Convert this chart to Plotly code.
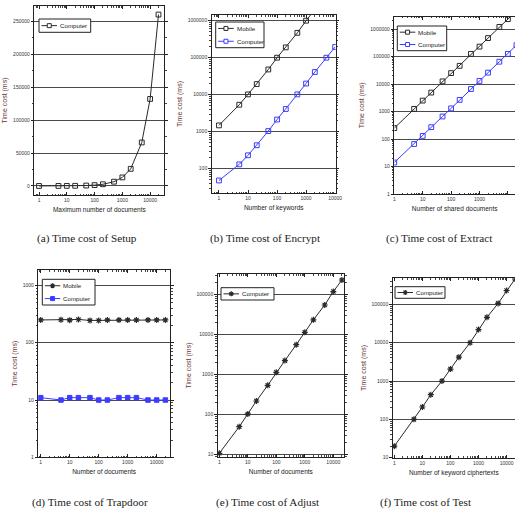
import plotly.graph_objects as go

# ---------------- data ----------------
docs = [1, 5, 10, 20, 50, 100, 200, 500, 1000, 2000, 5000, 10000, 20000]
keywords = [1, 5, 10, 20, 50, 100, 200, 500, 1000, 2000, 5000, 10000]

setup_computer = [13, 65, 130, 260, 650, 1300, 2600, 6500, 13000, 26000, 66000, 132000, 260000]

encrypt_mobile = [1480, 5350, 10200, 19400, 48000, 100000, 190000, 470000, 1000000, 2000000, 5000000, 10000000]
encrypt_computer = [48, 131, 230, 430, 1040, 2130, 4100, 10200, 20000, 41000, 100000, 195000]

extract_mobile = [250, 1250, 2500, 4900, 12500, 25000, 46000, 125000, 230000, 470000, 1200000, 2300000, 4600000]
extract_computer = [14, 66, 130, 270, 660, 1300, 2650, 6600, 13000, 26000, 65000, 125000, 260000]

trapdoor_mobile = [250, 252, 248, 255, 245, 245, 250, 250, 250, 250, 250, 250, 250]
trapdoor_computer = [11, 10, 11, 11, 11, 10, 10, 11, 11, 11, 10, 10, 10]

adjust_computer = [10.6, 49, 102, 215, 530, 1120, 2200, 5500, 11200, 23000, 54000, 117000, 228000]

test_computer = [20, 100, 210, 440, 1000, 2050, 4200, 10000, 22000, 46000, 106000, 230000, 460000]

series_names = ["Mobile", "Computer"]
x_titles = ["Maximum number of documents", "Number of keywords", "Number of shared documents",
            "Number of documents", "Number of documents", "Number of keyword ciphertexts"]
captions = ["(a) Time cost of Setup", "(b) Time cost of Encrypt", "(c) Time cost of Extract",
            "(d) Time cost of Trapdoor", "(e) Time cost of Adjust", "(f) Time cost of Test"]
x_tick_vals = [1, 10, 100, 1000, 10000]
x_tick_text = ["1", "10", "100", "1000", "10000"]
setup_y_ticks = [0, 50000, 100000, 150000, 200000, 250000]

# ---------------- layout helpers ----------------
W, H = 515, 516


def px_x(v):
    return v / W


def px_y(v):
    return 1 - v / H


BLACK = "#2a2a2a"
BLUE = "#3c3cff"
GRID = "#4a4a4a"
YTITLE = "#6a3434"
TICKFONT = dict(family="Liberation Sans, Arial", size=5, color="#333")

# panel boxes in pixels: left, right, top, bottom ; x range (log10) ; y range ; y type
panels = [
    dict(box=(34.3, 164.3, 6, 195), xr=[-0.17, 4.51], yr=[-13700, 273000], ytype="linear", cap=(87, 239)),
    dict(box=(211.7, 335.7, 15, 193), xr=[-0.25, 4.02], yr=[1.343, 6.154], ytype="log", cap=(265, 239)),
    dict(box=(394.3, 515, 16.7, 194), xr=[0, 4.25], yr=[0, 6.45], ytype="log", cap=(439, 239)),
    dict(box=(38.3, 170, 270, 457.3), xr=[-0.083, 4.46], yr=[0, 3.27], ytype="log", cap=(90, 502)),
    dict(box=(217.7, 344, 274.3, 456.7), xr=[-0.056, 4.375], yr=[0.94, 5.5], ytype="log", cap=(268, 502)),
    dict(box=(392.7, 515, 278.3, 457.7), xr=[-0.057, 4.3], yr=[1, 5.68], ytype="log", cap=(426, 502)),
]

minor_log = [k * 10 ** d for d in range(-1, 8) for k in range(2, 10)]

fig = go.Figure()
layout = dict(width=W, height=H, margin=dict(l=0, r=0, t=0, b=0, autoexpand=False),
              paper_bgcolor="white", plot_bgcolor="white", showlegend=False,
              font=dict(family="Liberation Sans, Arial", color="#222"))

annotations = []
shapes = []
for i, p in enumerate(panels):
    n = "" if i == 0 else str(i + 1)
    l, r, t, b = p["box"]
    xa = dict(domain=[px_x(l), min(px_x(r), 1.0)], anchor="y" + n, type="log", range=p["xr"],
              automargin=False,
              tickvals=x_tick_vals, ticktext=x_tick_text, tickfont=TICKFONT,
              ticks="inside", ticklen=3, tickcolor="#222", showgrid=False, zeroline=False,
              showline=True, linecolor="#222", linewidth=1, mirror="ticks",
              minor=dict(tickvals=minor_log, ticks="inside", ticklen=1.5, tickcolor="#444", showgrid=False),
              title=dict(text=x_titles[i], font=dict(size=6.5, color="#222"), standoff=5))
    ya = dict(domain=[px_y(b), px_y(t)], anchor="x" + n, type=p["ytype"], range=p["yr"],
              automargin=False,
              tickfont=TICKFONT, ticks="outside", ticklen=2.5, tickcolor="#222",
              showgrid=True, gridcolor=GRID, gridwidth=1, zeroline=False,
              showline=True, linecolor="#222", linewidth=1, mirror="ticks",
              title=dict(text="Time cost (ms)", font=dict(size=7, color=YTITLE), standoff=4))
    if p["ytype"] == "linear":
        ya.update(tickvals=setup_y_ticks, ticktext=[str(v) for v in setup_y_ticks],
                  minor=dict(dtick=25000, ticks="outside", ticklen=1.5, tickcolor="#444", showgrid=False))
    else:
        dec = [10 ** d for d in range(0, 7)]
        ya.update(tickvals=dec, ticktext=[str(v) for v in dec],
                  minor=dict(tickvals=minor_log, ticks="outside", ticklen=1.5, tickcolor="#444", showgrid=False))
    layout["xaxis" + n] = xa
    layout["yaxis" + n] = ya
    cx, cy = p["cap"]
    annotations.append(dict(text=captions[i], x=px_x(cx), y=px_y(cy),
                            xref="paper", yref="paper", showarrow=False, xanchor="center", yanchor="middle",
                            font=dict(family="Liberation Serif, Times New Roman", size=11.2, color="#222")))

sq = dict(symbol="square-open", size=4.8, line=dict(width=1))
ast = dict(symbol="asterisk-open", size=5, line=dict(width=1.2))
fsq = dict(symbol="square", size=4.5, line=dict(width=1))


def add(x, y, color, marker, axis_i):
    n = "" if axis_i == 0 else str(axis_i + 1)
    m = dict(marker)
    m["color"] = color
    m["line"] = dict(marker["line"], color=color)
    fig.add_trace(go.Scatter(x=x, y=y, mode="lines+markers", xaxis="x" + n, yaxis="y" + n,
                             line=dict(color=color, width=1), marker=m, showlegend=False))


add(docs, setup_computer, BLACK, sq, 0)
add(keywords, encrypt_mobile, BLACK, sq, 1)
add(keywords, encrypt_computer, BLUE, sq, 1)
add(docs, extract_mobile, BLACK, sq, 2)
add(docs, extract_computer, BLUE, sq, 2)
add(docs, trapdoor_mobile, BLACK, ast, 3)
add(docs, trapdoor_computer, BLUE, fsq, 3)
add(docs, adjust_computer, BLACK, ast, 4)
add(docs, test_computer, BLACK, ast, 5)

# ---------------- compact legends (box, sample line, marker, label) ----------------
legends = [
    dict(box=(39, 90.7, 19, 32.3), items=[("Computer", BLACK, "sq")]),
    dict(box=(215.7, 264, 22, 47.7), items=[("Mobile", BLACK, "sq"), ("Computer", BLUE, "sq")]),
    dict(box=(397.3, 446.7, 26, 50.7), items=[("Mobile", BLACK, "sq"), ("Computer", BLUE, "sq")]),
    dict(box=(42.3, 95, 279.3, 305), items=[("Mobile", BLACK, "ast"), ("Computer", BLUE, "fsq")]),
    dict(box=(221, 274, 287.7, 300), items=[("Computer", BLACK, "ast")]),
    dict(box=(395, 445, 286.7, 298.3), items=[("Computer", BLACK, "ast")]),
]

for lg in legends:
    x0, x1, y0, y1 = lg["box"]
    shapes.append(dict(type="rect", xref="paper", yref="paper", x0=px_x(x0), x1=px_x(x1),
                       y0=px_y(y1), y1=px_y(y0), line=dict(color="#222", width=1), fillcolor="white",
                       layer="above"))
    rows = len(lg["items"])
    rh = (y1 - y0) / rows
    for k, (name, color, mk) in enumerate(lg["items"]):
        cy = y0 + rh * (k + 0.5)
        shapes.append(dict(type="line", xref="paper", yref="paper", x0=px_x(x0 + 2.5), x1=px_x(x0 + 18),
                           y0=px_y(cy), y1=px_y(cy), line=dict(color=color, width=1), layer="above"))
        mx = x0 + 10.25
        if mk == "ast":
            shapes.append(dict(type="path", xref="paper", yref="paper", xsizemode="pixel", ysizemode="pixel",
                               xanchor=px_x(mx), yanchor=px_y(cy),
                               path="M-2.5,0L2.5,0M0,-2.5L0,2.5M-1.8,-1.8L1.8,1.8M-1.8,1.8L1.8,-1.8",
                               line=dict(color=color, width=1.2), layer="above"))
        else:
            shapes.append(dict(type="rect", xref="paper", yref="paper", xsizemode="pixel", ysizemode="pixel",
                               xanchor=px_x(mx), yanchor=px_y(cy), x0=-2, x1=2, y0=-2, y1=2,
                               line=dict(color=color, width=1),
                               fillcolor=color if mk == "fsq" else "white", layer="above"))
        annotations.append(dict(text=name, x=px_x(x0 + 19), y=px_y(cy), xref="paper", yref="paper",
                                showarrow=False, xanchor="left", yanchor="middle",
                                font=dict(size=6.2, color="#222")))

layout["annotations"] = annotations
layout["shapes"] = shapes

fig.update_layout(**layout)
# remove the browser's default 8px page margin so the figure sits at the window origin
fig.write_html("out.html", config={"displayModeBar": False},
               post_script="document.body.style.margin='0';document.body.style.overflow='hidden';")
